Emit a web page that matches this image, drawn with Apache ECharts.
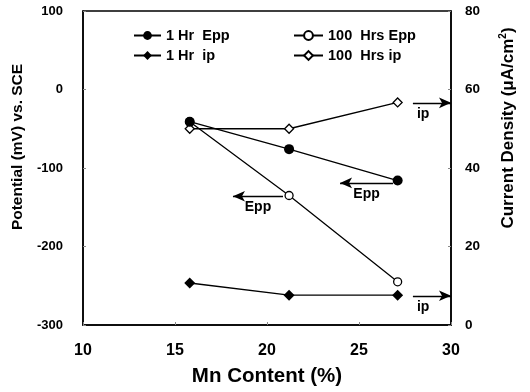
<!DOCTYPE html>
<html>
<head>
<meta charset="utf-8">
<script src="https://cdn.jsdelivr.net/npm/echarts@6/dist/echarts.min.js"></script>
<style>
  html, body { margin: 0; padding: 0; background: #fff; }
  #chart { width: 530px; height: 392px; }
</style>
</head>
<body>
<div id="chart"></div>
<script>
// Mn content of the alloys (%)
var mnContent = [15.8, 21.2, 27.1];
// Pitting potential, mV vs. SCE
var epp1Hr = [-41, -76, -116];
var epp100Hrs = [-41, -135, -245];
// Passive current density, µA/cm²
var ip1Hr = [10.7, 7.6, 7.6];
var ip100Hrs = [50, 50, 56.7];

// Axis ranges
var xTicks = [10, 15, 20, 25, 30];
var potentialTicks = [-300, -200, -100, 0, 100];
var currentTicks = [0, 20, 40, 60, 80];

// Arrows telling which axis each curve family reads from: [x0, x1, y]
var arrowIpUpper = [27.93, 30, 56.6];
var arrowIpLower = [27.93, 30, 7.45];
var arrowEpp1Hr = [23.97, 26.85, -119];
var arrowEpp100Hrs = [18.15, 20.87, -136];

var FONT = '"Liberation Sans", Arial, Helvetica, sans-serif';

function pairs(xs, ys) {
  return xs.map(function (x, i) { return [x, ys[i]]; });
}

function arrow(a, pointLeft, text, pos, dist) {
  return {
    silent: true,
    animation: false,
    symbol: pointLeft ? ['arrow', 'none'] : ['none', 'arrow'],
    symbolSize: [8, 12],
    lineStyle: { color: '#000', width: 1.3, type: 'solid' },
    label: {
      show: true,
      formatter: text,
      position: pos,
      distance: dist,
      color: '#000',
      fontFamily: FONT,
      fontWeight: 'bold',
      fontSize: 14
    },
    data: [[{ coord: [a[0], a[2]] }, { coord: [a[1], a[2]] }]]
  };
}

var lineStyle = { color: '#000', width: 1.3 };
var legendText = { color: '#000', fontFamily: FONT, fontWeight: 'bold', fontSize: 14.5 };

var chart = echarts.init(document.getElementById('chart'), null, { renderer: 'canvas' });
chart.setOption({
  animation: false,
  backgroundColor: '#fff',
  grid: {
    left: 83, right: 79, top: 11, bottom: 66,
    show: true, borderColor: '#000', borderWidth: 1.5, backgroundColor: 'transparent'
  },
  legend: [
    {
      left: 133, top: 28, orient: 'vertical', padding: 0,
      itemWidth: 27, itemHeight: 11, itemGap: 5,
      data: ['1 Hr  Epp', '1 Hr  ip'],
      textStyle: legendText
    },
    {
      left: 293, top: 28, orient: 'vertical', padding: 0,
      itemWidth: 29, itemHeight: 11, itemGap: 5,
      data: ['100  Hrs Epp', '100  Hrs ip'],
      textStyle: legendText
    }
  ],
  xAxis: {
    type: 'value',
    min: xTicks[0], max: xTicks[xTicks.length - 1], interval: 5,
    name: 'Mn Content (%)',
    nameLocation: 'middle', nameGap: 41,
    nameTextStyle: { color: '#000', fontFamily: FONT, fontWeight: 'bold', fontSize: 20.5 },
    axisLine: { onZero: false, lineStyle: { color: '#000', width: 1.5 } },
    axisTick: { show: true, inside: true, length: 3, lineStyle: { color: '#888' } },
    splitLine: { show: false },
    axisLabel: { color: '#000', fontFamily: FONT, fontWeight: 'bold', fontSize: 16, margin: 18 }
  },
  yAxis: [
    {
      type: 'value', position: 'left',
      min: potentialTicks[0], max: potentialTicks[potentialTicks.length - 1], interval: 100,
      name: 'Potential (mV) vs. SCE',
      nameLocation: 'middle', nameGap: 53, nameRotate: 90,
      nameTextStyle: { color: '#000', fontFamily: FONT, fontWeight: 'bold', fontSize: 15.5, padding: [0, 0, 0, 42] },
      axisLine: { show: true, onZero: false, lineStyle: { color: '#000', width: 1.5 } },
      axisTick: { show: true, inside: true, length: 3, lineStyle: { color: '#888' } },
      splitLine: { show: false },
      axisLabel: { color: '#000', fontFamily: FONT, fontWeight: 'bold', fontSize: 13, margin: 20 }
    },
    {
      type: 'value', position: 'right',
      min: currentTicks[0], max: currentTicks[currentTicks.length - 1], interval: 20,
      name: 'Current Density (μA/cm{sup|2})',
      nameLocation: 'middle', nameGap: 47, nameRotate: 90,
      nameTextStyle: {
        color: '#000', fontFamily: FONT, fontWeight: 'bold', fontSize: 17, padding: [0, 0, 0, 80],
        rich: { sup: { fontFamily: FONT, fontWeight: 'bold', fontSize: 10, verticalAlign: 'top', padding: [0, 0, 10, 0] } }
      },
      axisLine: { show: true, onZero: false, lineStyle: { color: '#000', width: 1.5 } },
      axisTick: { show: true, inside: true, length: 3, lineStyle: { color: '#888' } },
      splitLine: { show: false },
      axisLabel: { color: '#000', fontFamily: FONT, fontWeight: 'bold', fontSize: 13.5, margin: 14 }
    }
  ],
  series: [
    {
      name: '1 Hr  ip', type: 'line', yAxisIndex: 1,
      data: pairs(mnContent, ip1Hr),
      symbol: 'diamond', symbolSize: 11, showAllSymbol: true,
      lineStyle: lineStyle, itemStyle: { color: '#000' },
      markLine: arrow(arrowIpLower, false, 'ip', 'insideStartBottom', 4),
      z: 3
    },
    {
      name: '100  Hrs ip', type: 'line', yAxisIndex: 1,
      data: pairs(mnContent, ip100Hrs),
      symbol: 'diamond', symbolSize: 9,
      lineStyle: lineStyle, itemStyle: { color: '#fff', borderColor: '#000', borderWidth: 1.3 },
      markLine: arrow(arrowIpUpper, false, 'ip', 'insideStartBottom', 4),
      z: 3
    },
    {
      name: '100  Hrs Epp', type: 'line', yAxisIndex: 0,
      data: pairs(mnContent, epp100Hrs),
      symbol: 'circle', symbolSize: 8,
      lineStyle: lineStyle, itemStyle: { color: '#fff', borderColor: '#000', borderWidth: 1.3 },
      markLine: arrow(arrowEpp100Hrs, true, 'Epp', 'insideMiddleBottom', 4),
      z: 4
    },
    {
      name: '1 Hr  Epp', type: 'line', yAxisIndex: 0,
      data: pairs(mnContent, epp1Hr),
      symbol: 'circle', symbolSize: 10,
      lineStyle: lineStyle, itemStyle: { color: '#000' },
      markLine: arrow(arrowEpp1Hr, true, 'Epp', 'insideMiddleBottom', 4),
      z: 5
    }
  ]
});
</script>
</body>
</html>
